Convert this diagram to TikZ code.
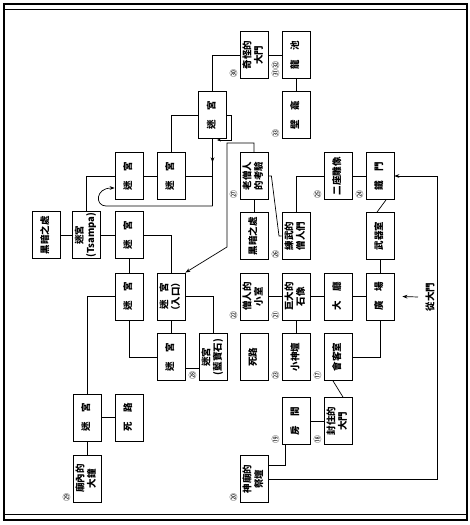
\documentclass[tikz,border=0pt]{standalone}
\usepackage{fontspec}
\newfontfamily\cjk{Noto Sans CJK TC}
\usetikzlibrary{arrows.meta, calc, decorations.markings}

\newcommand{\vlabel}[1]{\rotatebox{90}{\begin{tabular}{@{}c@{}}#1\end{tabular}}}

\begin{document}
\begin{tikzpicture}[x=1pt, y=-1pt,
        area/.style={rectangle, draw, line width=0.8pt, minimum width=28pt, minimum height=47pt, inner sep=0pt, font=\cjk\bfseries\fontsize{9.5}{11}\selectfont},
        tag/.style={inner sep=0pt, rotate=90, font=\cjk\fontsize{8}{8}\selectfont},
        link/.style={line width=0.7pt}]

        \useasboundingbox (0,0) rectangle (469,525);

        % frame
        \draw[line width=1.2pt] (4,4) rectangle (467,520);
        \draw[line width=0.6pt] (4,9) -- (467,9);
        \draw[line width=0.6pt] (4,514) -- (467,514);

        % maze side
        \node[area] (dark1) at (46,235) {\vlabel{黑暗之處}};
        \node[area] (tsampa) at (86,235) {\vlabel{迷宮\\(Tsampa)}};
        \node[area] (mza) at (129,176) {\vlabel{迷\hspace{1em}宮}};
        \node[area] (mzb) at (171,176) {\vlabel{迷\hspace{1em}宮}};
        \node[area] (mztop) at (212.5,115) {\vlabel{迷\hspace{1em}宮}};
        \node[area] (mzc) at (129,235) {\vlabel{迷\hspace{1em}宮}};
        \node[area] (mzd) at (129,296.5) {\vlabel{迷\hspace{1em}宮}};
        \node[area] (entry) at (171,296.5) {\vlabel{迷\hspace{0.8em}宮\\（入口）}};
        \node[area] (mze) at (171,357) {\vlabel{迷\hspace{1em}宮}};
        \node[area] (sapphire) at (213,357) {\vlabel{迷宮\\(藍寶石)}};
        \node[area] (mzf) at (87,417.5) {\vlabel{迷\hspace{1em}宮}};
        \node[area] (dead1) at (129,417.5) {\vlabel{死\hspace{1em}路}};
        \node[area] (bell) at (87,478.5) {\vlabel{廟內的\\大鐘}};

        % temple side
        \node[area] (gate30) at (254,55) {\vlabel{奇怪的\\大門}};
        \node[area] (pool) at (296,55) {\vlabel{龍\hspace{1em}池}};
        \node[area] (niche) at (296,115) {\vlabel{壁\hspace{1em}龕}};
        \node[area] (test) at (254,176) {\vlabel{老僧人\\的考驗}};
        \node[area] (dark2) at (254,236) {\vlabel{黑暗之處}};
        \node[area] (monks) at (296,236) {\vlabel{練武的\\僧人們}};
        \node[area] (statues) at (338,176) {\vlabel{二座雕像}};
        \node[area] (irongate) at (380,176) {\vlabel{鐵\hspace{1em}門}};
        \node[area] (armory) at (380,236) {\vlabel{武器室}};
        \node[area] (plaza) at (380,296.5) {\vlabel{廣\hspace{1em}場}};
        \node[area] (hall) at (338,296.5) {\vlabel{大\hspace{1em}廳}};
        \node[area] (giant) at (296,296.5) {\vlabel{巨大的\\石像}};
        \node[area] (cell) at (254,296.5) {\vlabel{僧人的\\小室}};
        \node[area] (shrine) at (296,357) {\vlabel{小神壇}};
        \node[area] (dead2) at (254,357) {\vlabel{死路}};
        \node[area] (reception) at (338,357) {\vlabel{會客室}};
        \node[area] (sealed) at (338,421) {\vlabel{封住的\\大門}};
        \node[area] (room) at (296,421) {\vlabel{房\hspace{1em}間}};
        \node[area] (altar) at (254,479) {\vlabel{神廟的\\祭壇}};

        \node[rotate=90, inner sep=0pt, font=\cjk\bfseries\fontsize{9.5}{10}\selectfont] (fromgate) at (430,297) {從大門};

        % numbers
        \node[tag] at ([xshift=-6pt,yshift=5pt]reception.south west) {⑰};
        \node[tag] at ([xshift=-6pt,yshift=5pt]sealed.south west) {⑱};
        \node[tag] at ([xshift=-6pt,yshift=5pt]room.south west) {⑲};
        \node[tag] at ([xshift=-6pt,yshift=5pt]altar.south west) {⑳};
        \node[tag] at ([xshift=-6pt,yshift=5pt]giant.south west) {㉑};
        \node[tag] at ([xshift=-6pt,yshift=5pt]cell.south west) {㉒};
        \node[tag] at ([xshift=-6pt,yshift=5pt]shrine.south west) {㉓};
        \node[tag] at ([xshift=-6pt,yshift=5pt]irongate.south west) {㉔};
        \node[tag] at ([xshift=-6pt,yshift=5pt]statues.south west) {㉕};
        \node[tag] at ([xshift=-6pt,yshift=5pt]monks.south west) {㉖};
        \node[tag] at ([xshift=-6pt,yshift=5pt]test.south west) {㉗};
        \node[tag] at ([xshift=-6pt,yshift=5pt]sapphire.south west) {㉘};
        \node[tag] at ([xshift=-6pt,yshift=5pt]bell.south west) {㉙};
        \node[tag] at ([xshift=-6pt,yshift=5pt]gate30.south west) {㉚};
        \node[tag] at ([xshift=-6pt,yshift=9pt]pool.south west) {㉛㉜};
        \node[tag] at ([xshift=-6pt,yshift=5pt]niche.south west) {㉝};

        % maze links
        \coordinate (drop) at (212.5,206);
        \draw[link] (dark1) -- (tsampa);
        \draw[link] (tsampa) -- (mzc);
        \draw[link] (tsampa.north) |- (mza.west);
        \draw[link] (mza) -- (mzb);
        \draw[link] (mzb.north) |- (mztop.west);
        \draw[link] (mzb.east) -- (mzb.east -| mztop.south);
        \draw[link, postaction=decorate, decoration={markings, mark=at position 0.35 with {\arrow{Stealth[length=5pt]}}}] (mztop.south) -- (drop);
        \draw[link, -{Stealth[length=5pt]}] (drop) -- (106,206) .. controls (95,206) and (95,188) .. ([yshift=-12pt]mza.west);
        \draw[link, -{Stealth[length=4pt]}] (mztop.east) -- ++(4,0) -- ++(0,25) -- ++(-14,0);
        \draw[link] (mzc.east) -| (entry.north);
        \draw[link] (mzc) -- (mzd);
        \draw[link] (mzd.south) |- (mze.west);
        \draw[link] (entry) -- (mze);
        \draw[link] (entry.east) -| (sapphire.north);
        \draw[link] ([yshift=-11pt]mze.east) -- ([yshift=-11pt]sapphire.west);
        \draw[link] (mzd.west) -| (mzf.north);
        \draw[link] (mzf) -- (dead1);
        \draw[link] (mzf) -- (bell);

        % temple links
        \coordinate (turn) at (227,143);
        \coordinate (rim) at (437,479);
        \draw[link] (mztop.north) |- (gate30.west);
        \draw[link] (gate30) -- (pool);
        \draw[link] (pool) -- (niche);
        \draw[link, -{Stealth[length=5pt]}] (test.north) |- (turn) -- (227,247) -- (entry.north east);
        \draw[link] (test) -- (dark2);
        \draw[link] (test.east) -- ++(3,0) -- (279,236) -- (monks.west);
        \draw[link] (monks.north) |- (statues.west);
        \draw[link] (statues) -- (irongate);
        \draw[link] ([xshift=6pt]irongate.south) -- ([xshift=-3pt]armory.north);
        \draw[link] (armory) -- (plaza);
        \draw[link] (plaza) -- (hall);
        \draw[link] (hall) -- (giant);
        \draw[link] (giant) -- (cell);
        \draw[link] (giant) -- (shrine);
        \draw[link] (plaza.south) |- (reception.east);
        \draw[link] ([xshift=-5pt]reception.south) -- ([xshift=5pt]sealed.north);
        \draw[link] (sealed) -- (room);
        \draw[link] ([xshift=4pt]room.south west) |- ([yshift=14pt]altar.east);
        \draw[link, -{Stealth[length=5pt]}] (altar.east) -- (rim) |- (irongate.east);
        \draw[link, -{Stealth[length=5pt]}] ([xshift=-12pt]fromgate.center) -- ([xshift=8pt]plaza.east);
      \end{tikzpicture}
\end{document}
